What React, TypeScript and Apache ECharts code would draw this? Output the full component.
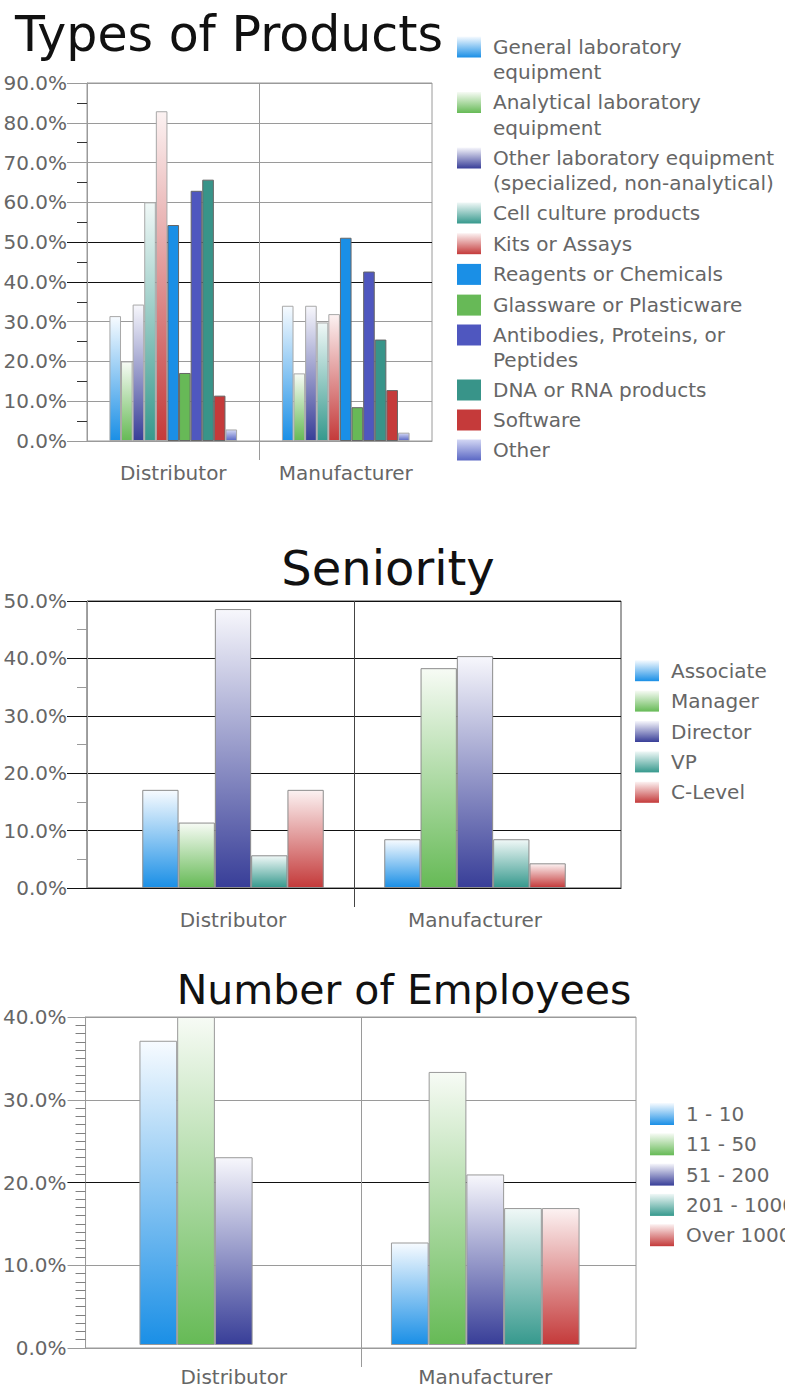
import { useEffect, useRef } from 'react';
import * as echarts from 'echarts';

// ---------- data ----------
const categories = ['Distributor', 'Manufacturer'];

const productTypes = [
  'General laboratory equipment',
  'Analytical laboratory equipment',
  'Other laboratory equipment (specialized, non-analytical)',
  'Cell culture products',
  'Kits or Assays',
  'Reagents or Chemicals',
  'Glassware or Plasticware',
  'Antibodies, Proteins, or Peptides',
  'DNA or RNA products',
  'Software',
  'Other',
];
const productLegendLines: (string[] | null)[] = [
  ['General laboratory', 'equipment'],
  ['Analytical laboratory', 'equipment'],
  ['Other laboratory equipment', '(specialized, non-analytical)'],
  null, null, null, null,
  ['Antibodies, Proteins, or', 'Peptides'],
  null, null, null,
];
const productsDistributor = [31.4, 20.0, 34.3, 60.0, 82.9, 54.3, 17.1, 62.9, 65.7, 11.4, 2.9];
const productsManufacturer = [34.0, 17.0, 34.0, 29.8, 31.9, 51.1, 8.5, 42.6, 25.5, 12.8, 2.1];

const seniorityLevels = ['Associate', 'Manager', 'Director', 'VP', 'C-Level'];
const seniorityDistributor = [17.1, 11.4, 48.6, 5.7, 17.1];
const seniorityManufacturer = [8.5, 38.3, 40.4, 8.5, 4.3];

const employeeRanges = ['1 - 10', '11 - 50', '51 - 200', '201 - 1000', 'Over 1000'];
const employeesDistributor = [37.1, 40.0, 22.9, 0, 0];
const employeesManufacturer = [12.5, 33.3, 20.8, 16.7, 16.7];

// ---------- styles ----------
const FONT = 'DejaVu Sans';
const LABEL = '#666666';
const GRAY = '#9a9a9a';
const DARK = '#111111';

const grad = (top: string, bottom: string) =>
  new echarts.graphic.LinearGradient(0, 0, 0, 1, [
    { offset: 0, color: top },
    { offset: 1, color: bottom },
  ]);
const blueG = () => grad('#f7fbff', '#1a8fe6');
const greenG = () => grad('#f7fbf5', '#66ba56');
const indigoG = () => grad('#f7f7fc', '#383e98');
const tealG = () => grad('#f0f8f7', '#36998d');
const redG = () => grad('#fcf2f2', '#c43a3a');
const lavG = () => grad('#d3d7f4', '#5a67c4');

const productFills = [
  { c: blueG, b: '#a8a8a8' },
  { c: greenG, b: '#a8a8a8' },
  { c: indigoG, b: '#a8a8a8' },
  { c: tealG, b: '#a8a8a8' },
  { c: redG, b: '#a8a8a8' },
  { c: () => '#1a8fe6', b: '#666' },
  { c: () => '#67b957', b: '#666' },
  { c: () => '#4f57bf', b: '#666' },
  { c: () => '#389489', b: '#666' },
  { c: () => '#c53a3a', b: '#666' },
  { c: lavG, b: '#a8a8a8' },
];
const fiveFills = [blueG, greenG, indigoG, tealG, redG];

const pct = (v: number) => v.toFixed(1) + '%';
// a zero-height bar gets no outline
const barData = (vals: number[]) =>
  vals.map((v) => (v === 0 ? { value: v, itemStyle: { borderWidth: 0 } } : v));

// ---------- axis helpers ----------
const frameX = (gridIndex: number, lineColor: string, dividerColor: string) => ({
  type: 'value', gridIndex, min: 0, max: 2, interval: 1, position: 'bottom',
  axisLine: { show: true, lineStyle: { color: lineColor } },
  axisLabel: { show: false },
  axisTick: { show: true, customValues: [1], length: 19, lineStyle: { color: dividerColor } },
  splitLine: { show: true, lineStyle: { color: dividerColor } },
});
const barX = (gridIndex: number) => ({
  type: 'category', gridIndex, data: categories,
  axisLine: { show: false }, axisTick: { show: false }, splitLine: { show: false },
  axisLabel: { margin: 22, fontSize: 20, color: LABEL, fontFamily: FONT, interval: 0 },
});
const labelY = (
  gridIndex: number, max: number, tickLen: number, minorSplit: number,
  tickColor: string, minorColor: string, lineColors: string[], axisColor: string, margin: number,
) => ({
  type: 'value', gridIndex, position: 'left', min: 0, max, interval: 10,
  axisLine: { show: true, lineStyle: { color: axisColor } },
  axisTick: { show: true, length: tickLen, lineStyle: { color: tickColor } },
  minorTick: { show: true, splitNumber: minorSplit, length: 10, lineStyle: { color: minorColor } },
  minorSplitLine: { show: false },
  splitLine: { show: true, lineStyle: { color: lineColors } },
  axisLabel: { margin, fontSize: 20, color: LABEL, fontFamily: FONT, formatter: pct },
});
const accentY = (gridIndex: number, max: number, values: number[], len: number) => ({
  type: 'value', gridIndex, position: 'left', min: 0, max, interval: 10,
  axisLine: { show: false }, axisLabel: { show: false }, splitLine: { show: false },
  axisTick: { show: true, length: len, customValues: values, lineStyle: { color: DARK } },
});
const hiddenY = (gridIndex: number, max: number) => ({
  type: 'value', gridIndex, min: 0, max, show: false,
});

const legendText = {
  fontFamily: FONT, fontSize: 20, color: LABEL, lineHeight: 25, padding: [0, 0, 0, 7],
};
const legendBase = {
  orient: 'vertical', itemWidth: 24, itemHeight: 21, selectedMode: false, padding: 0,
  icon: 'rect', itemStyle: { borderWidth: 0 }, textStyle: legendText,
};
const twoLineLegend = {
  ...legendBase,
  formatter: (name: string) => {
    const lines = productLegendLines[productTypes.indexOf(name)] || [name, ''];
    return `{a|${lines[0]}}\n{b|${lines[1]}}`;
  },
  textStyle: {
    ...legendText,
    rich: {
      a: { fontFamily: FONT, fontSize: 20, color: LABEL, lineHeight: 50 },
      b: { fontFamily: FONT, fontSize: 20, color: LABEL, lineHeight: 1 },
    },
  },
};

function buildOption() {
  const series: any[] = [];
  productTypes.forEach((name, i) => {
    series.push({
      type: 'bar', name, xAxisIndex: 1, yAxisIndex: 2,
      data: barData([productsDistributor[i], productsManufacturer[i]]),
      barGap: '0%', barCategoryGap: '26%',
      itemStyle: { color: productFills[i].c(), borderColor: productFills[i].b, borderWidth: 1 },
    });
  });
  seniorityLevels.forEach((name, i) => {
    series.push({
      type: 'bar', name, xAxisIndex: 3, yAxisIndex: 4,
      data: barData([seniorityDistributor[i], seniorityManufacturer[i]]),
      barGap: '0%', barCategoryGap: '25%',
      itemStyle: { color: fiveFills[i](), borderColor: '#8c8c8c', borderWidth: 1 },
    });
  });
  employeeRanges.forEach((name, i) => {
    series.push({
      type: 'bar', name, xAxisIndex: 5, yAxisIndex: 7,
      data: barData([employeesDistributor[i], employeesManufacturer[i]]),
      barGap: '0%', barCategoryGap: '25%',
      itemStyle: { color: fiveFills[i](), borderColor: '#999', borderWidth: 1 },
    });
  });

  const g = GRAY, d = DARK;
  return {
    animation: false,
    textStyle: { fontFamily: FONT },
    title: [
      { text: 'Types of Products', left: 229, top: 10, textAlign: 'center', padding: 0,
        textStyle: { fontSize: 49, fontWeight: 'normal', color: '#111', fontFamily: FONT } },
      { text: 'Seniority', left: 388, top: 544, textAlign: 'center', padding: 0,
        textStyle: { fontSize: 48, fontWeight: 'normal', color: '#111', fontFamily: FONT } },
      { text: 'Number of Employees', left: 404, top: 969, textAlign: 'center', padding: 0,
        textStyle: { fontSize: 41, fontWeight: 'normal', color: '#111', fontFamily: FONT } },
    ],
    legend: [
      { ...twoLineLegend, left: 457, top: 21.5, itemGap: -5, data: productTypes.slice(0, 3) },
      { ...legendBase, left: 457, top: 200.5, itemGap: 5.7, data: productTypes.slice(3, 7) },
      { ...twoLineLegend, left: 457, top: 309.5, itemGap: -5, data: productTypes.slice(7, 8) },
      { ...legendBase, left: 457, top: 377.5, itemGap: 5, data: productTypes.slice(8) },
      { ...legendBase, left: 635, top: 658.2, itemGap: 5.4, data: seniorityLevels },
      { ...legendBase, left: 650, top: 1101.5, itemGap: 5.3, itemHeight: 22, data: employeeRanges },
    ],
    grid: [
      { left: 87, top: 83, width: 345, height: 358, show: true, borderColor: g, borderWidth: 1, backgroundColor: 'transparent' },
      { left: 87, top: 83, width: 345, height: 358 },
      { left: 87, top: 601, width: 534, height: 287, show: true, borderColor: '#444', borderWidth: 1, backgroundColor: 'transparent' },
      { left: 112, top: 601, width: 484, height: 287 },
      { left: 83, top: 1017, width: 553, height: 331, show: true, borderColor: g, borderWidth: 1, backgroundColor: 'transparent' },
      { left: 108, top: 1017, width: 503, height: 331 },
    ],
    xAxis: [
      frameX(0, g, g), barX(1),
      frameX(2, d, '#444'), barX(3),
      frameX(4, g, g), barX(5),
    ],
    yAxis: [
      labelY(0, 90, 20, 2, g, '#333', [g, g, g, g, d, d, g, g, g, g], g, 20),
      accentY(0, 90, [40, 50], 20),
      hiddenY(1, 90),
      labelY(2, 50, 20, 2, d, g, [d], g, 20),
      hiddenY(3, 50),
      labelY(4, 40, 18, 10, g, '#808080', [g, g, d, g, g], g, 19),
      accentY(4, 40, [20], 18),
      hiddenY(5, 40),
    ],
    series,
  };
}

export default function App() {
  const ref = useRef<HTMLDivElement>(null);
  useEffect(() => {
    if (!ref.current) return;
    const chart = echarts.init(ref.current, undefined, { renderer: 'svg' });
    chart.setOption(buildOption() as any);
    return () => chart.dispose();
  }, []);
  return (
    <div
      ref={ref}
      style={{ position: 'absolute', left: 0, top: 0, width: 785, height: 1387, background: '#fff' }}
    />
  );
}
